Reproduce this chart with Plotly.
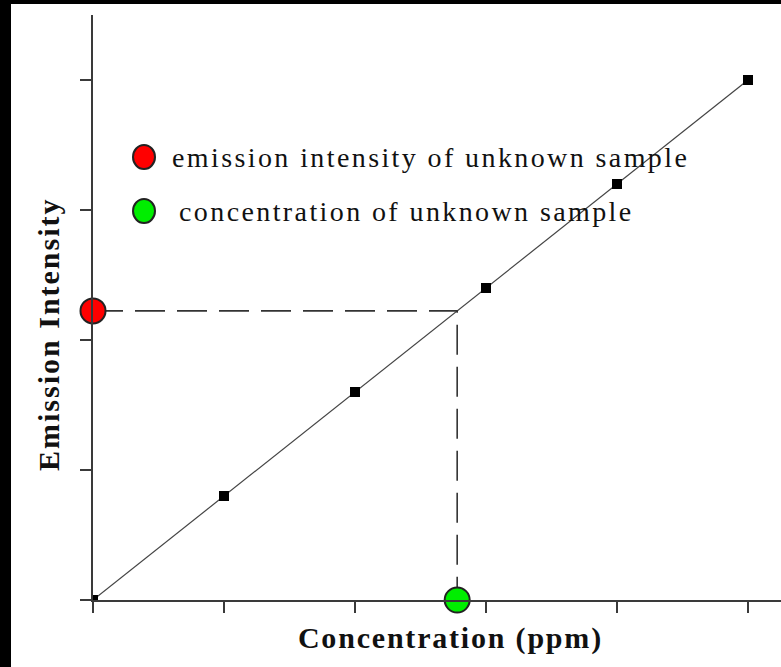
import plotly.graph_objects as go

# ---- data ----
concentration = [0, 1, 2, 3, 4, 5]
intensity = [0, 20, 40, 60, 80, 100]
unknown_conc = 2.78
unknown_intensity = 55.6
x_ticks = [0, 1, 2, 3, 4, 5]
y_ticks = [0, 25, 50, 75, 100]
legend_labels = ["emission intensity of unknown sample", "concentration of unknown sample"]
legend_colors = ["#ff0000", "#00ee00"]

W, H = 781, 667
L, R, T, B = 93, 0, 15, 67
PW = W - L - R
PH = H - T - B


def px(xp):
    return (xp - L) / PW


def py(yp):
    return (H - B - yp) / PH


AX = "#3a3a3a"
FONT = "Liberation Serif"

fig = go.Figure()

# calibration line
fig.add_trace(go.Scatter(
    x=concentration, y=intensity, mode="lines+markers",
    line=dict(color="#444444", width=1.2),
    marker=dict(symbol="square", size=10, color="black"),
    showlegend=False,
))

# dashed guide lines
fig.add_trace(go.Scatter(
    x=[0, unknown_conc, unknown_conc], y=[unknown_intensity, unknown_intensity, 0],
    mode="lines", line=dict(color="#333333", width=1.6, dash="30px,12px"),
    showlegend=False, cliponaxis=False,
))

# unknown sample markers
fig.add_trace(go.Scatter(
    x=[0], y=[unknown_intensity], mode="markers",
    marker=dict(symbol="circle", size=25, color=legend_colors[0],
                line=dict(color="#222222", width=2)),
    showlegend=False, cliponaxis=False,
))
fig.add_trace(go.Scatter(
    x=[unknown_conc], y=[0], mode="markers",
    marker=dict(symbol="circle", size=25, color=legend_colors[1],
                line=dict(color="#222222", width=2)),
    showlegend=False, cliponaxis=False,
))

shapes = [
    # black border strips
    dict(type="rect", xref="paper", yref="paper", x0=px(-5), x1=px(11), y0=py(H + 5), y1=py(-5),
         fillcolor="black", line=dict(width=0), layer="above"),
    dict(type="rect", xref="paper", yref="paper", x0=px(-5), x1=px(W + 5), y0=py(4), y1=py(-5),
         fillcolor="black", line=dict(width=0), layer="above"),
]
legend_y = [157, 211]
legend_tx = [170, 177]
annotations = []
for i, lab in enumerate(legend_labels):
    cy = legend_y[i]
    shapes.append(dict(type="circle", xref="paper", yref="paper",
                       x0=px(133), x1=px(155), y0=py(cy + 12), y1=py(cy - 12),
                       fillcolor=legend_colors[i], line=dict(color="#222222", width=2)))
    annotations.append(dict(text=lab, xref="paper", yref="paper", x=px(legend_tx[i]), y=py(cy),
                            xanchor="left", yanchor="middle", align="left", showarrow=False,
                            font=dict(family=FONT, size=28, color="#111111")))

annotations.append(dict(text="<b>Concentration (ppm)</b>", xref="paper", yref="paper",
                        x=px(450), y=py(638), xanchor="center", yanchor="middle",
                        showarrow=False, font=dict(family=FONT, size=30, color="#111111")))
annotations.append(dict(text="<b>Emission Intensity</b>", xref="paper", yref="paper",
                        x=px(48), y=py(334), xanchor="center", yanchor="middle",
                        textangle=-90, showarrow=False,
                        font=dict(family=FONT, size=30, color="#111111")))

fig.update_layout(
    width=W, height=H,
    margin=dict(l=L, r=R, t=T, b=B, pad=0),
    paper_bgcolor="white", plot_bgcolor="white",
    shapes=shapes, annotations=annotations,
    xaxis=dict(range=[0, (W - L) / 131.0], tickvals=x_ticks, showticklabels=False,
               ticks="outside", ticklen=11, tickwidth=2, tickcolor=AX,
               showline=True, linecolor=AX, linewidth=2, showgrid=False, zeroline=False),
    yaxis=dict(range=[0, 112.5], tickvals=y_ticks, showticklabels=False,
               ticks="outside", ticklen=11, tickwidth=2, tickcolor=AX,
               showline=True, linecolor=AX, linewidth=2, showgrid=False, zeroline=False),
)

post = """
document.body.style.margin = '0px';
document.body.style.overflow = 'hidden';
var tx = document.querySelectorAll('.annotation-text');
tx.forEach(function(t){
  var s = t.textContent;
  if (s.indexOf('unknown') >= 0) { t.style.letterSpacing = '2.4px'; }
  else if (s.indexOf('Concentration') >= 0) { t.style.letterSpacing = '1.8px'; }
  else if (s.indexOf('Emission') >= 0) { t.style.letterSpacing = '2px'; }
});
"""

fig.write_html("out.html", post_script=post, config={"displayModeBar": False})
